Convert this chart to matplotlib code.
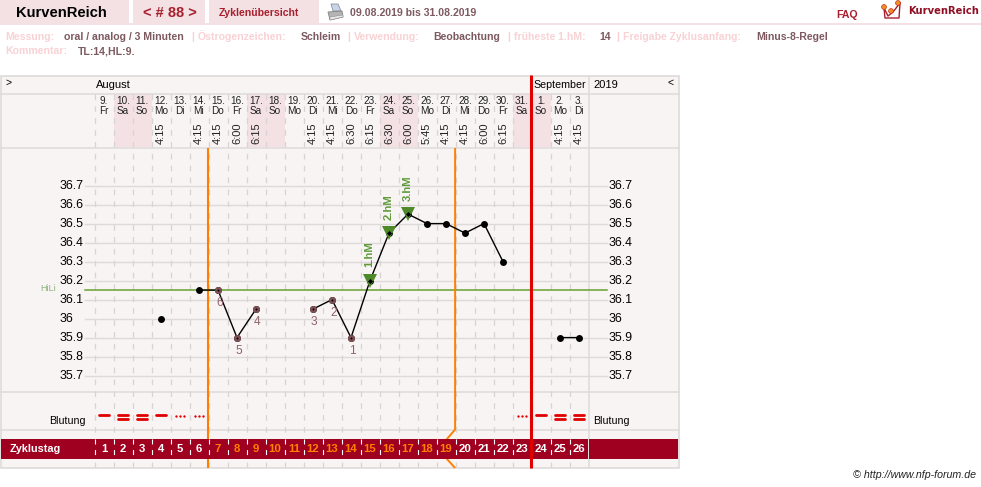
import matplotlib
matplotlib.use('Agg')
import matplotlib.pyplot as plt
from matplotlib.patches import Rectangle, Polygon, Circle
from matplotlib.transforms import blended_transform_factory as blend

plt.rcParams['font.family'] = ['Liberation Sans', 'DejaVu Sans']

# --- Zyklusdaten ---
day_numbers = [9, 10, 11, 12, 13, 14, 15, 16, 17, 18, 19, 20, 21, 22, 23, 24, 25, 26, 27, 28, 29, 30, 31, 1, 2, 3]
weekdays = ['Fr', 'Sa', 'So', 'Mo', 'Di', 'Mi', 'Do', 'Fr', 'Sa', 'So', 'Mo', 'Di', 'Mi',
            'Do', 'Fr', 'Sa', 'So', 'Mo', 'Di', 'Mi', 'Do', 'Fr', 'Sa', 'So', 'Mo', 'Di']
times = ['', '', '', '4:15', '', '4:15', '4:15', '6:00', '6:15', '', '', '4:15', '4:15',
         '6:30', '6:15', '6:30', '6:00', '5:45', '4:15', '4:15', '6:00', '6:15', '', '', '4:15', '4:15']
temps = [None, None, None, 36.0, None, 36.15, 36.15, 35.9, 36.05, None, None, 36.05, 36.1,
         35.9, 36.2, 36.45, 36.55, 36.5, 36.5, 36.45, 36.5, 36.3, None, None, 35.9, 35.9]
bleeding = [2, 3, 3, 2, 1, 1, 0, 0, 0, 0, 0, 0, 0, 0, 0, 0, 0, 0, 0, 0, 0, 0, 1, 2, 3, 3]
cycle_days = list(range(1, 27))

low_days = [6, 7, 8, 11, 12, 13]
low_labels = ['6', '5', '4', '3', '2', '1']
high_days = [14, 15, 16]
high_labels = ['1.hM', '2.hM', '3.hM']
temp_ticks = [36.7, 36.6, 36.5, 36.4, 36.3, 36.2, 36.1, 36.0, 35.9, 35.8, 35.7]
temp_tick_labels = ['36.7', '36.6', '36.5', '36.4', '36.3', '36.2', '36.1', '36', '35.9', '35.8', '35.7']
cover_line = 36.15
luteal_start = 5.46
luteal_end = 18.48
month_end = 22.49

BG = '#f9f4f4'
PINK = '#f3e1e3'
GRID = '#dedada'
DASH = '#d8d4d4'
DARKRED = '#9f001f'
ORANGE = '#ff8000'
RED = '#e00000'
GREEN = '#4f8a2a'
BROWN = '#7d5056'
LABEL = '#f8d2d5'
VALUE = '#7d5a60'

W, H = 981, 487
fig = plt.figure(figsize=(W / 100, H / 100), dpi=100, facecolor='white')

# Seite in Pixelkoordinaten fuer Rahmen und Kopfzeile
page = fig.add_axes([0, 0, 1, 1], zorder=0)
page.set_xlim(0, W)
page.set_ylim(H, 0)
page.axis('off')

# Diagrammbereich: x = Tagesindex, y = Temperatur
x0, x1, y0, y1 = 94.5, 588.5, 148.0, 391.0
ax = fig.add_axes([x0 / W, 1 - y1 / H, (x1 - x0) / W, (y1 - y0) / H], zorder=1)
ax.patch.set_alpha(0)
ax.axis('off')
ax.set_xlim(-0.5, 25.5)
ax.set_ylim(36.7 - (y1 - 185.6) / 190, 36.7 + (185.6 - y0) / 190)

day_x = blend(ax.transData, page.transData)
temp_y = blend(page.transData, ax.transData)


def ptext(x, y, s, **kw):
    kw.setdefault('va', 'center')
    kw.setdefault('fontsize', 7.6)
    page.text(x, y, s, **kw)


def rect(x, y, w, h, color, z=1):
    page.add_patch(Rectangle((x, y), w, h, facecolor=color, edgecolor='none', zorder=z))


# --- Kopfzeile ---
rect(0, 0, 129, 23, PINK)
rect(133, 0, 72, 23, PINK)
rect(209, 0, 110, 23, PINK)
rect(0, 23, W, 2, PINK)
ptext(16, 13, 'KurvenReich', fontsize=10.6, color='black', fontweight='bold')
ptext(143, 13, '< # 88 >', fontsize=10.5, color='#a8202f', fontweight='bold')
ptext(219, 13, 'Zyklenübersicht', color='#a8202f', fontweight='bold')
ptext(350, 13, '09.08.2019 bis 31.08.2019', color=VALUE, fontweight='bold')
ptext(836, 15, 'FAQ', color='#a8202f', fontweight='bold')
ptext(908, 10.5, 'KurvenReich', fontsize=7.2, color='#8f0f25', fontweight='bold', family='DejaVu Sans')

# Druckersymbol
page.add_patch(Polygon([(331, 4), (338, 4), (341, 11), (333, 11)], fc='#c8d4ea', ec='#8c9098', lw=0.6, zorder=2))
page.add_patch(Polygon([(328, 12), (342, 11), (343, 17), (330, 20)], fc='#b4b4b4', ec='#808080', lw=0.6, zorder=2))
page.add_patch(Polygon([(330, 17), (343, 15), (343, 17), (330, 20)], fc='#e8e8e8', ec='#909090', lw=0.4, zorder=2))

# Logo
page.plot([884, 888, 893, 900], [8, 16, 12, 3], color='#a8202f', lw=1.0, zorder=2)
page.plot([884, 885, 899, 900], [8, 18, 18, 3], color='#a8202f', lw=1.0, zorder=2)
for cx, cy in [(884, 7), (891, 11), (898, 3)]:
    page.add_patch(Circle((cx, cy), 2.4, fc='#f09020', ec='#c03020', lw=0.5, zorder=3))

# Messdaten-Zeilen
meta = [(5, 'Messung:', LABEL), (64, 'oral / analog / 3 Minuten', VALUE), (191, '|', LABEL),
        (198, 'Östrogenzeichen:', LABEL), (301, 'Schleim', VALUE), (347, '|', LABEL),
        (354, 'Verwendung:', LABEL), (433, 'Beobachtung', VALUE), (507, '|', LABEL),
        (514, 'früheste 1.hM:', LABEL), (599, '14', VALUE), (616, '|', LABEL),
        (623, 'Freigabe Zyklusanfang:', LABEL), (756, 'Minus-8-Regel', VALUE)]
for mx, s, c in meta:
    ptext(mx, 36.5, s, color=c, fontweight='bold')
ptext(5, 51.5, 'Kommentar:', color=LABEL, fontweight='bold')
ptext(78, 51.5, 'TL:14,HL:9.', color=VALUE, fontweight='bold')

ptext(853, 475.5, '© http://www.nfp-forum.de', fontsize=7.7, style='italic', color='#222222')

# --- Rahmen ---
rect(0.5, 75.5, 678, 392, BG, z=0.5)
page.add_patch(Rectangle((0.5, 75.5), 678, 392, fc='none', ec=GRID, lw=1.2, zorder=1.5))
for yy in [93.5, 147.5, 391.5, 429.5]:
    page.plot([0.5, 678.5], [yy, yy], color=GRID, lw=1.1, zorder=1.5)
page.plot([588.5, 588.5], [75.5, 467.5], color=GRID, lw=1.1, zorder=1.5)

# Wochenende im Kopf schattieren
for i, wd in enumerate(weekdays):
    if wd in ('Sa', 'So'):
        page.add_patch(Rectangle((i - 0.5, 94), 1, 53, transform=day_x, fc=PINK, ec='none', zorder=1))

# Tagesspalten
for i in range(len(day_numbers)):
    page.plot([i - 0.5, i - 0.5], [94, 467], transform=day_x, color=DASH, lw=0.9,
              dashes=(4.5, 5), zorder=1.6)

ptext(5, 83, '>', color='black', fontsize=7.5)
ptext(96, 85, 'August', color='black', fontsize=8)
ptext(533, 85, 'September', color='black', fontsize=7.7)
ptext(593, 85, '2019', color='black', fontsize=8)
ptext(668, 83, '<', color='black', fontsize=7.5)

for i, (d, wd, t) in enumerate(zip(day_numbers, weekdays, times)):
    page.text(i, 101.5, f'{d}.', transform=day_x, ha='center', va='center', fontsize=7.2, color='#222222')
    page.text(i, 111, wd, transform=day_x, ha='center', va='center', fontsize=7.2, color='#222222')
    if t:
        page.text(i, 133.5, t, transform=day_x, ha='center', va='center', rotation=90, fontsize=8, color='#222222')

# --- Temperaturskala ---
for v, s in zip(temp_ticks, temp_tick_labels):
    page.plot([85, 607], [v, v], transform=temp_y, color=GRID, lw=1.0, zorder=1.4)
    page.text(60, v, s, transform=temp_y, va='center', fontsize=8.9, color='black')
    page.text(608.5, v, s, transform=temp_y, va='center', fontsize=8.9, color='black')
page.plot([85, 607], [cover_line, cover_line], transform=temp_y, color='#68a030', lw=1.1, zorder=1.8)
page.text(40, cover_line + 0.01, 'HiLi', transform=temp_y, va='center', fontsize=6.5, color='#8fb080')

# --- Blutung ---
ptext(86, 420.5, 'Blutung', ha='right', fontsize=7.7, color='black')
ptext(593, 420.5, 'Blutung', fontsize=7.7, color='black')
for i, b in enumerate(bleeding):
    if b == 1:
        page.plot([i - 0.2, i, i + 0.2], [415.5] * 3, 'o', transform=day_x, color=RED, ms=1.7, mew=0, zorder=2)
    elif b == 2:
        page.plot([i - 0.24, i + 0.24], [415, 415], transform=day_x, color=RED, lw=2.0,
                  solid_capstyle='round', zorder=2)
    elif b == 3:
        for yy in (414.7, 418.7):
            page.plot([i - 0.24, i + 0.24], [yy, yy], transform=day_x, color=RED, lw=2.0,
                      solid_capstyle='round', zorder=2)

# --- Zyklustag-Balken ---
rect(1, 439, 587, 19.5, DARKRED, z=3)
rect(589, 439, 89, 19.5, DARKRED, z=3)
ptext(10, 449, 'Zyklustag', color='white', fontweight='bold', fontsize=7.8, zorder=5)
for i, c in enumerate(cycle_days):
    page.plot([i - 0.5, i - 0.5], [439, 458], transform=day_x, color='white', lw=0.8,
              dashes=(4.5, 5), zorder=3.5)
    col = ORANGE if luteal_start < i < luteal_end else 'white'
    page.text(i, 449, str(c), transform=day_x, ha='center', va='center', color=col,
              fontsize=8.2, fontweight='bold', zorder=5)

# --- Zyklusgrenzen ---
page.plot([luteal_start, luteal_start], [148, 468], transform=day_x, color=ORANGE, lw=1.5,
          solid_capstyle='butt', zorder=2)
page.plot([luteal_end, luteal_end, luteal_end - 0.43, luteal_end - 0.43, luteal_end],
          [148, 429.5, 439, 459, 468], transform=day_x, color=ORANGE, lw=1.4,
          solid_capstyle='butt', zorder=2)
page.plot([month_end, month_end], [75, 468], transform=day_x, color=RED, lw=2.2,
          solid_capstyle='butt', zorder=4)

# --- Temperaturkurve: Luecken trennen die Segmente ---
xs = list(range(len(temps)))
ys = [float('nan') if v is None else v for v in temps]
ax.plot(xs, ys, color='black', lw=1.0, marker='o', ms=5.0, mew=0, zorder=3)

ly = [temps[i] for i in low_days]
ax.plot(low_days, ly, ls='none', marker='o', ms=5.0, mfc=BROWN, mew=0, zorder=4)
ax.plot(low_days, ly, ls='none', marker='o', ms=1.4, mfc='black', mew=0, zorder=5)
for d, s in zip(low_days, low_labels):
    ax.annotate(s, (d, temps[d]), xytext=(1, -9.5), textcoords='offset points', ha='center', va='center',
                fontsize=8.6, color='#8f6268')

hy = [temps[i] for i in high_days]
ax.plot(high_days, hy, ls='none', marker='v', ms=9.5, mfc=GREEN, mew=0, zorder=4)
ax.plot(high_days, hy, ls='none', marker='D', ms=2.6, mfc='black', mew=0, zorder=5)
for d, s in zip(high_days, high_labels):
    ax.annotate(s, (d, temps[d]), xytext=(-0.5, 9.5), textcoords='offset points', ha='center', va='bottom',
                rotation=90, fontsize=8.2, color='#5f9a3a', fontweight='bold')

plt.savefig('out.png', dpi=100)
plt.close()
